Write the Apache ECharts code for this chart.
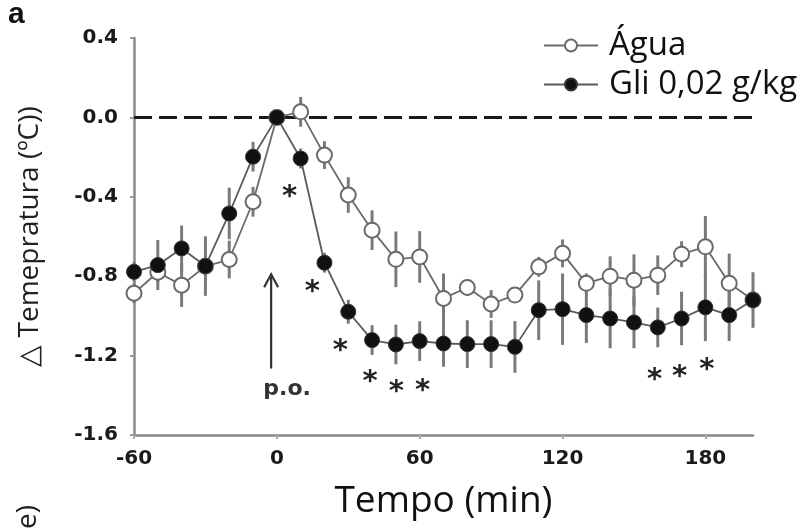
<!DOCTYPE html>
<html>
<head>
<meta charset="utf-8">
<script src="https://cdn.jsdelivr.net/npm/echarts@6/dist/echarts.min.js"></script>
<style>
html,body{margin:0;padding:0;background:#fff;}
#chart{width:810px;height:529px;}
</style>
</head>
<body>
<div id="chart"></div>
<script>
// ---- data ----
var times = [-60,-50,-40,-30,-20,-10,0,10,20,30,40,50,60,70,80,90,100,110,120,130,140,150,160,170,180,190,200];
var agua = [-0.886,-0.78,-0.845,-0.75,-0.716,-0.425,0,0.028,-0.19,-0.391,-0.568,-0.715,-0.703,-0.912,-0.857,-0.94,-0.895,-0.753,-0.685,-0.836,-0.8,-0.82,-0.795,-0.689,-0.652,-0.836,-0.92];
var aguaErr = [0.05,0.05,0.11,0.05,0.095,0.075,0,0.075,0.07,0.09,0.1,0.14,0.13,0.126,0.04,0.07,0.04,0.05,0.07,0.05,0.10,0.13,0.10,0.065,0.155,0.15,0.05];
var gli = [-0.778,-0.744,-0.66,-0.749,-0.484,-0.198,0,-0.207,-0.732,-0.979,-1.122,-1.144,-1.127,-1.139,-1.142,-1.142,-1.156,-0.971,-0.966,-0.996,-1.013,-1.033,-1.058,-1.013,-0.957,-0.996,-0.92];
var gliErr = [0.05,0.126,0.115,0.15,0.13,0.075,0,0.05,0.05,0.06,0.075,0.1,0.1,0.117,0.12,0.12,0.13,0.15,0.18,0.14,0.15,0.13,0.1,0.135,0.17,0.13,0.14];
var starX = [5.3,14.9,26.7,39.2,50.2,61.2,158.7,169.2,180.6];
var starY = [-0.365,-0.844,-1.137,-1.295,-1.345,-1.341,-1.287,-1.27,-1.234];
var xTickLabels = [-60,0,60,120,180];
var seriesNames = ['Água','Gli 0,02 g/kg'];
var arrowX = -2.4, arrowFrom = -1.265, arrowTo = -0.79;
var poText = 'p.o.', poX = 4.3, poY = -1.37;
var refLine = [[-60,0],[200,0]];

function pairs(xs, ys){ return xs.map(function(x,i){ return [x, ys[i]]; }); }
function errData(xs, ys, es){ return xs.map(function(x,i){ return [x, ys[i]-es[i], ys[i]+es[i]]; }); }

var errRender = function(params, api){
  var p1 = api.coord([api.value(0), api.value(1)]);
  var p2 = api.coord([api.value(0), api.value(2)]);
  return {type:'line', shape:{x1:p1[0],y1:p1[1],x2:p2[0],y2:p2[1]}, style:{stroke:'#7a7a7a', lineWidth:3}};
};

var chart = echarts.init(document.getElementById('chart'), null, {renderer:'canvas'});
var tickFont = {fontFamily:'DejaVu Sans', fontWeight:'bold', fontSize:20, color:'#1a1a1a'};

chart.setOption({
  animation:false,
  backgroundColor:'#fff',
  grid:{left:134, right:57, top:38, bottom:94, containLabel:false},
  legend:{
    data:seriesNames, orient:'vertical', left:538, top:24, itemWidth:54, itemHeight:15, itemGap:6,
    textStyle:{fontFamily:'Open Sans', fontSize:33, color:'#111', padding:[0,0,0,6]}
  },
  xAxis:{
    type:'value', min:-60, max:200, interval:60,
    name:'Tempo (min)', nameLocation:'middle', nameGap:48,
    nameTextStyle:{fontFamily:'Open Sans', fontSize:37, color:'#111'},
    axisLine:{onZero:false, lineStyle:{color:'#8a8a8a', width:2.5}},
    axisTick:{show:true, length:4, lineStyle:{color:'#aaa', width:2}, customValues:xTickLabels},
    axisLabel:Object.assign({margin:14, customValues:xTickLabels}, tickFont),
    splitLine:{show:false}
  },
  yAxis:{
    type:'value', min:-1.6, max:0.4, interval:0.4,
    name:'△ Temepratura (ºC))', nameLocation:'middle', nameRotate:90, nameGap:90,
    nameTextStyle:{fontFamily:'Open Sans', fontSize:28, color:'#222'},
    axisLine:{show:true, onZero:false, lineStyle:{color:'#8a8a8a', width:2.5}},
    axisTick:{show:true, length:4, lineStyle:{color:'#999', width:2}},
    axisLabel:Object.assign({margin:16, formatter:function(v){ return (Math.abs(v)<1e-9?0:v).toFixed(1); }}, tickFont),
    splitLine:{show:false}
  },
  series:[
    {type:'line', data:refLine, symbol:'none', silent:true, z:1,
     lineStyle:{color:'#1a1a1a', width:3, type:[18,7]}},
    {type:'custom', data:errData(times, agua, aguaErr), renderItem:errRender, z:2, silent:true},
    {type:'custom', data:errData(times, gli, gliErr), renderItem:errRender, z:2, silent:true},
    {name:seriesNames[0], type:'line', data:pairs(times, agua), z:3,
     symbol:'circle', symbolSize:15,
     lineStyle:{color:'#6a6a6a', width:1.8},
     itemStyle:{color:'#ffffff', borderColor:'#6a6a6a', borderWidth:2}},
    {name:seriesNames[1], type:'line', data:pairs(times, gli), z:4,
     symbol:'circle', symbolSize:15,
     lineStyle:{color:'#5a5a5a', width:1.8},
     itemStyle:{color:'#111', borderColor:'#333', borderWidth:1}},
    {type:'custom', data:pairs(starX, starY), z:5, silent:true,
     renderItem:function(params, api){
       var p = api.coord([api.value(0), api.value(1)]);
       return {type:'text', x:p[0], y:p[1]+8, style:{text:'*', fontFamily:'DejaVu Sans', fontWeight:'bold', fontSize:29, fill:'#222', align:'center', verticalAlign:'middle'}};
     }},
    {type:'custom', data:[[arrowX, arrowFrom, arrowTo]], z:5, silent:true,
     renderItem:function(params, api){
       var a = api.coord([api.value(0), api.value(1)]);
       var b = api.coord([api.value(0), api.value(2)]);
       var st = {stroke:'#333', lineWidth:2.2, fill:null};
       return {type:'group', children:[
         {type:'line', shape:{x1:a[0],y1:a[1],x2:b[0],y2:b[1]}, style:st},
         {type:'polyline', shape:{points:[[b[0]-7,b[1]+13],[b[0],b[1]],[b[0]+7,b[1]+13]]}, style:st}
       ]};
     }},
    {type:'custom', data:[[poX, poY]], z:5, silent:true,
     renderItem:function(params, api){
       var p = api.coord([api.value(0), api.value(1)]);
       return {type:'text', x:p[0], y:p[1], style:{text:poText, fontFamily:'DejaVu Sans', fontWeight:'bold', fontSize:22, fill:'#333', align:'center', verticalAlign:'middle'}};
     }}
  ],
  graphic:[
    {type:'text', left:8, top:0, style:{text:'a', fontFamily:'Liberation Sans', fontWeight:'bold', fontSize:30, fill:'#111'}},
    {type:'text', x:42, y:529, rotation:Math.PI/2, style:{text:'e)', fontFamily:'Open Sans', fontSize:28, fill:'#222', align:'left', verticalAlign:'bottom'}}
  ]
});
</script>
</body>
</html>
